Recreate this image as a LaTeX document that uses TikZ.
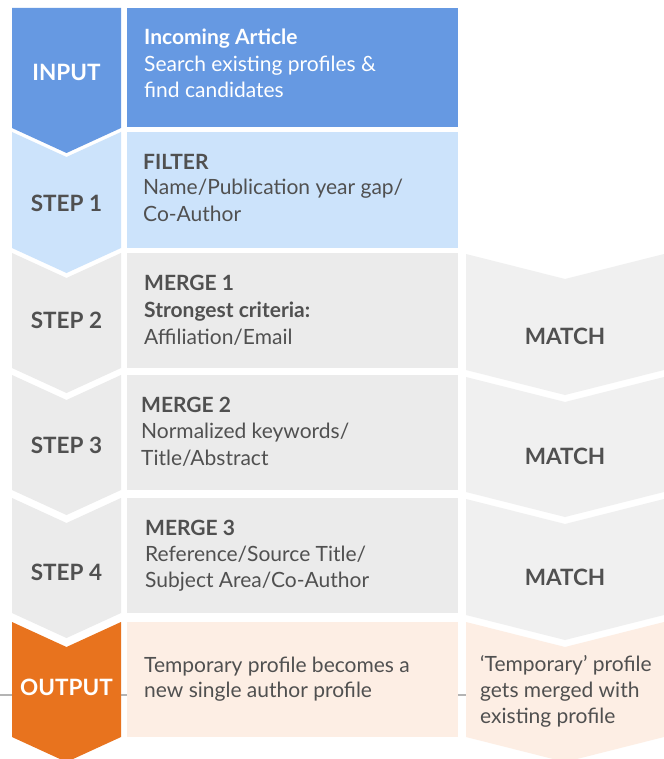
\documentclass[tikz,border=0pt]{standalone}
\usepackage{fontspec}
\setmainfont{Lato}
\definecolor{inblue}{HTML}{6699E2}
\definecolor{ltblue}{HTML}{CCE3FB}
\definecolor{greyL}{HTML}{EBEBEB}
\definecolor{greyR}{HTML}{F0F0F0}
\definecolor{orng}{HTML}{E8731E}
\definecolor{peach}{HTML}{FDEEE4}
\definecolor{txt}{HTML}{505050}
\definecolor{rule}{HTML}{B4B4B4}
\newcommand{\mychev}[6]{% left x, centre x, right x, top y, bottom y, fill
  \fill[#6] (#1,#4) -- (#2,#4+25) -- (#3,#4) -- (#3,#5) -- (#2,#5+25) -- (#1,#5) -- cycle;}
\tikzset{
  lbl/.style={font=\fontsize{22.5}{26}\selectfont\bfseries, text=txt, inner sep=0pt},
  txtline/.style={font=\fontsize{21}{26}\selectfont, text=txt, inner sep=0pt, anchor=base west},
  head/.style={txtline, font=\fontsize{21}{26}\selectfont\bfseries},
}
\begin{document}
\begin{tikzpicture}[x=1pt,y=-1pt]
\useasboundingbox (0,0) rectangle (663,759);
\fill[white] (0,0) rectangle (663,759);
\draw[rule, line width=1.5pt] (0,695) -- (663,695);
% left column
\fill[inblue] (12,8) -- (121,8) -- (121,128) -- (66.5,153) -- (12,128) -- cycle;
\mychev{12}{66.5}{121}{132}{248}{ltblue}
\mychev{12}{66.5}{121}{253}{368}{greyL}
\mychev{12}{66.5}{121}{375}{490}{greyL}
\mychev{12}{66.5}{121}{498}{613}{greyL}
\mychev{12}{66.5}{121}{622}{737}{orng}
% middle column
\fill[inblue] (127,8) rectangle (458,127);
\fill[ltblue] (127,132) rectangle (458,248);
\fill[greyL] (127,253) rectangle (458,368);
\fill[greyL] (127,375) rectangle (458,490);
\fill[greyL] (127,498) rectangle (458,613);
\fill[peach] (127,622) rectangle (458,737);
% right column
\mychev{466}{565}{664}{254}{370}{greyR}
\mychev{466}{565}{664}{377}{492}{greyR}
\mychev{466}{565}{664}{499}{615}{greyR}
\mychev{466}{565}{664}{622}{737}{peach}
% left labels
\node[lbl, text=white] (lin) at (66.5,72) {INPUT};
\node[lbl] (ls1) at (66.5,203) {STEP 1};
\node[lbl] (ls2) at (66.5,320) {STEP 2};
\node[lbl] (ls3) at (66.5,445) {STEP 3};
\node[lbl] (ls4) at (66.5,572) {STEP 4};
\node[lbl, text=white] (lout) at (66.5,687) {OUTPUT};
% middle texts
\node[head, text=white] (ia) at (144,45) {Incoming Article};
\node[txtline, text=white] (ib) at (144,72) {Search existing profiles \&};
\node[txtline, text=white] (ic) at (144,98) {find candidates};
\node[head] (fa) at (143,170) {FILTER};
\node[txtline] (fb) at (143,195) {Name/Publication year gap/};
\node[txtline] (fc) at (143,222) {Co-Author};
\node[head] (m1a) at (144,290) {MERGE 1};
\node[head] (m1b) at (144,317) {Strongest criteria:};
\node[txtline] (m1c) at (144,344) {Affiliation/Email};
\node[head] (m2a) at (141,412) {MERGE 2};
\node[txtline] (m2b) at (141,438) {Normalized keywords/};
\node[txtline] (m2c) at (141,465) {Title/Abstract};
\node[head] (m3a) at (145,535) {MERGE 3};
\node[txtline] (m3b) at (145,561) {Reference/Source Title/};
\node[txtline] (m3c) at (145,587) {Subject Area/Co-Author};
\node[txtline] (oa) at (144,672) {Temporary profile becomes a};
\node[txtline] (ob) at (144,697) {new single author profile};
% right texts
\node[lbl] (r1) at (565,336) {MATCH};
\node[lbl] (r2) at (565,456) {MATCH};
\node[lbl] (r3) at (565,577) {MATCH};
\node[txtline] (ra) at (480,671) {‘Temporary’ profile};
\node[txtline] (rb) at (480,697) {gets merged with};
\node[txtline] (rc) at (480,723) {existing profile};
\end{tikzpicture}
\end{document}
